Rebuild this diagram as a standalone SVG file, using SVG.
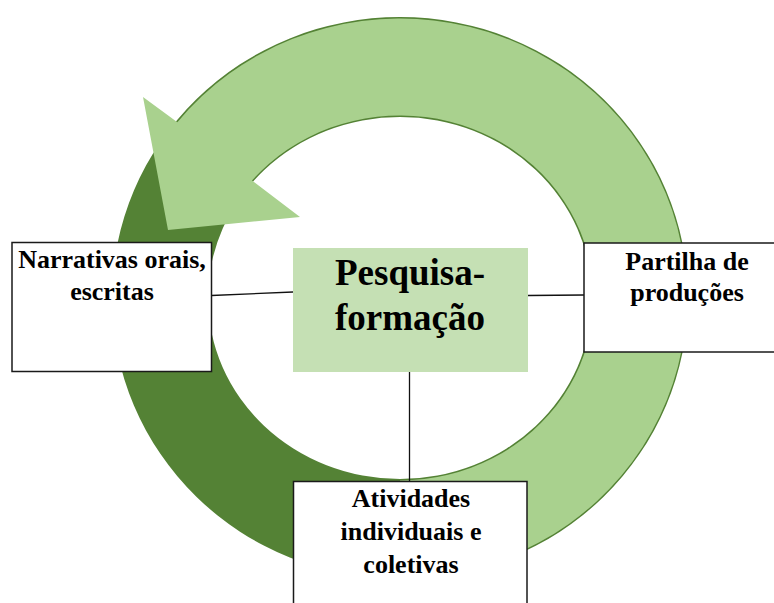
<svg xmlns="http://www.w3.org/2000/svg" width="774" height="603" viewBox="0 0 774 603">
  <style>
    .box { fill: #ffffff; stroke: #1a1a1a; stroke-width: 1.5; }
    .lbl { font-family: "Liberation Serif", "Times New Roman", serif; font-weight: bold; font-size: 26px; fill: #000; text-anchor: middle; }
    .big { font-size: 37px; }
    .conn { stroke: #111; stroke-width: 1.3; fill: none; }
  </style>
  <rect width="774" height="603" fill="#ffffff"/>
  <g id="cycle">
    <path d="M112,298 a288,281 0 1 0 576,0 a288,281 0 1 0 -576,0 Z M208,298 a192,181 0 1 0 384,0 a192,181 0 1 0 -384,0 Z" fill="#548235" fill-rule="evenodd"/>
    <path d="M177.4,122.2 A286.5,279.5 0 1 1 400,577.5 L400,480.5 A193.5,182.5 0 1 0 252,180.5 L300,217 L168,230 L143,97 Z" fill="#A9D18E"/>
  </g>
  <g id="connectors">
    <line class="conn" x1="211.5" y1="295.5" x2="293" y2="292"/>
    <line class="conn" x1="528" y1="295.5" x2="584" y2="295"/>
    <line class="conn" x1="409.5" y1="372" x2="409.5" y2="481.5"/>
  </g>
  <g id="center">
    <rect x="293" y="248" width="235" height="124" fill="#C5E0B4"/>
    <text class="lbl big" x="410" y="285">Pesquisa-</text>
    <text class="lbl big" x="410" y="330">formação</text>
  </g>
  <g id="narrativas">
    <rect class="box" x="12" y="242.5" width="199.5" height="129"/>
    <text class="lbl" x="112" y="268">Narrativas orais,</text>
    <text class="lbl" x="112" y="300">escritas</text>
  </g>
  <g id="partilha">
    <rect class="box" x="584" y="243" width="200" height="109"/>
    <text class="lbl" x="687" y="270">Partilha de</text>
    <text class="lbl" x="687" y="301">produções</text>
  </g>
  <g id="atividades">
    <rect class="box" x="293.5" y="481.5" width="233.5" height="130"/>
    <text class="lbl" x="411" y="507">Atividades</text>
    <text class="lbl" x="411" y="540">individuais e</text>
    <text class="lbl" x="411" y="573">coletivas</text>
  </g>
</svg>
